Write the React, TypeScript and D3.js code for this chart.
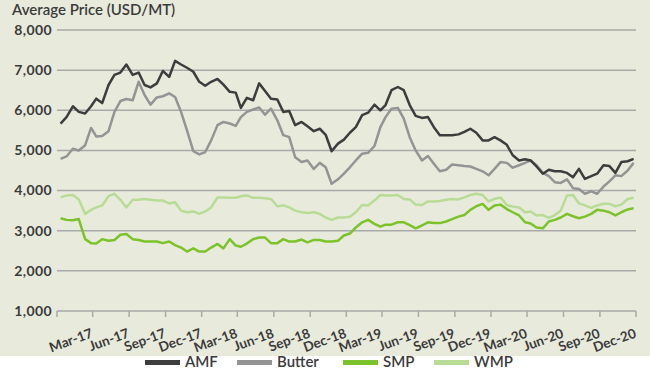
import React from 'react';
import * as d3 from 'd3';

// semi-monthly price readings, Dec-16 .. Nov-20
const amf = [
  5670, 5830, 6100, 5960, 5920, 6100, 6290, 6180, 6630, 6880,
  6940, 7140, 6880, 6940, 6630, 6570, 6670, 6980, 6830, 7230,
  7140, 7060, 6960, 6710, 6610, 6710, 6780, 6640, 6460, 6440,
  6060, 6310, 6250, 6670, 6480, 6290, 6270, 5960, 5980, 5630,
  5710, 5600, 5480, 5540, 5390, 4980, 5170, 5270, 5440, 5580,
  5880, 5940, 6140, 6000, 6130, 6500, 6580, 6500, 6130, 5860,
  5810, 5830, 5580, 5380, 5380, 5380, 5400, 5460, 5540, 5440,
  5250, 5250, 5330, 5250, 5140, 4880, 4750, 4780, 4750, 4600,
  4420, 4520, 4480, 4480, 4440, 4330, 4540, 4290, 4360, 4420,
  4630, 4610, 4440, 4710, 4730, 4790,
];
const butter = [
  4790, 4850, 5040, 5000, 5130, 5560, 5350, 5360, 5480, 5960,
  6230, 6280, 6250, 6710, 6380, 6140, 6320, 6350, 6420, 6330,
  5960, 5500, 4980, 4900, 4960, 5250, 5630, 5710, 5670, 5610,
  5830, 5960, 6020, 6070, 5890, 6040, 5750, 5380, 5330, 4830,
  4710, 4750, 4540, 4690, 4580, 4170, 4280, 4420, 4580, 4750,
  4920, 4940, 5110, 5580, 5830, 6040, 6060, 5790, 5330, 5000,
  4750, 4860, 4670, 4480, 4520, 4650, 4630, 4610, 4600, 4540,
  4480, 4380, 4540, 4710, 4690, 4570, 4630, 4690, 4750, 4630,
  4440, 4360, 4210, 4190, 4280, 4060, 4040, 3920, 3980, 3920,
  4100, 4230, 4380, 4360, 4500, 4690,
];
const smp = [
  3310, 3270, 3260, 3290, 2790, 2690, 2680, 2790, 2750, 2770,
  2900, 2920, 2790, 2770, 2730, 2730, 2730, 2690, 2730, 2640,
  2580, 2480, 2560, 2480, 2480, 2580, 2670, 2560, 2790, 2630,
  2600, 2680, 2790, 2830, 2830, 2690, 2690, 2790, 2730, 2730,
  2780, 2710, 2770, 2770, 2730, 2730, 2750, 2880, 2930, 3080,
  3210, 3270, 3170, 3100, 3150, 3150, 3210, 3210, 3140, 3060,
  3130, 3210, 3190, 3190, 3230, 3290, 3350, 3390, 3520, 3610,
  3670, 3520, 3630, 3650, 3540, 3460, 3380, 3210, 3180, 3080,
  3060, 3230, 3270, 3330, 3420, 3360, 3310, 3350, 3420, 3520,
  3500, 3460, 3380, 3460, 3530, 3560,
];
const wmp = [
  3830, 3880, 3890, 3780, 3420, 3520, 3580, 3630, 3860, 3920,
  3770, 3580, 3770, 3770, 3790, 3770, 3750, 3750, 3680, 3710,
  3500, 3460, 3480, 3420, 3480, 3580, 3830, 3830, 3820, 3820,
  3860, 3880, 3820, 3820, 3810, 3790, 3610, 3630, 3580, 3500,
  3460, 3440, 3460, 3420, 3330, 3270, 3330, 3330, 3350, 3460,
  3640, 3630, 3750, 3890, 3880, 3880, 3890, 3790, 3780, 3650,
  3640, 3730, 3730, 3740, 3770, 3790, 3780, 3830, 3890, 3920,
  3890, 3730, 3790, 3830, 3640, 3600, 3580, 3460, 3480, 3380,
  3390, 3320, 3390, 3500, 3880, 3890, 3680, 3630, 3570, 3630,
  3670, 3670, 3610, 3650, 3790, 3820,
];

const seriesNames = ['AMF', 'Butter', 'SMP', 'WMP'];
const seriesColors = ['#3d3d3d', '#949494', '#7cc22a', '#b8dc95'];
const yTicks = [1000, 2000, 3000, 4000, 5000, 6000, 7000, 8000];

// two readings per month, starting Dec 2016
const dates = amf.map((_, i) =>
  new Date(2016, 11 + Math.floor(i / 2), i % 2 === 0 ? 10 : 25)
);

const W = 650;
const H = 371;

export default function App() {
  const x = d3
    .scaleTime()
    .domain([new Date(2016, 11, 1), new Date(2020, 11, 1)])
    .range([57, 636]);
  const y = d3.scaleLinear().domain([1000, 8000]).range([311, 30]);

  // quarterly ticks Mar-17 .. Dec-20
  const xTicks = d3.timeMonth.range(new Date(2017, 2, 1), new Date(2020, 11, 2), 3);
  const fmt = d3.timeFormat('%b-%y');

  const line = d3
    .line<number>()
    .x((_, i) => x(dates[i]))
    .y((d) => y(d));

  const allSeries = [amf, butter, smp, wmp];
  const drawOrder = [3, 2, 1, 0];
  const legendX = [145, 237, 343, 434];

  return (
    <svg
      width={W}
      height={H}
      style={{ position: 'absolute', left: 0, top: 0, display: 'block' }}
      fontFamily="Lato, sans-serif"
    >
      <rect x={0} y={0} width={W} height={H} fill="#ffffff" />
      <rect x={0} y={0} width={W} height={356} fill="#e8ebdc" />

      <text x={12} y={15} fontSize={15} fontWeight={600} fill="#3b3b3b">
        Average Price (USD/MT)
      </text>

      {/* gridlines + y labels */}
      {yTicks.map((t) => (
        <g key={t}>
          <line
            x1={57}
            x2={636}
            y1={y(t)}
            y2={y(t)}
            stroke="#a9a9a9"
            strokeWidth={1.5}
          />
          <text
            x={52}
            y={y(t)}
            dy="0.35em"
            textAnchor="end"
            fontSize={14}
            fontWeight={700}
            letterSpacing={0.4}
            fill="#3b3b3b"
          >
            {d3.format(',')(t)}
          </text>
        </g>
      ))}

      {/* x ticks */}
      <line x1={57} x2={57} y1={y(1000)} y2={y(1000) + 6} stroke="#a9a9a9" strokeWidth={1.5} />
      {xTicks.map((d) => (
        <g key={d.getTime()}>
          <line
            x1={x(d)}
            x2={x(d)}
            y1={y(1000)}
            y2={y(1000) + 6}
            stroke="#a9a9a9"
            strokeWidth={1.5}
          />
          <text
            transform={`translate(${x(d) + 1},${337}) rotate(-20)`}
            textAnchor="end"
            fontSize={13.5}
            fontWeight={700}
            fill="#3b3b3b"
          >
            {fmt(d)}
          </text>
        </g>
      ))}

      {/* lines */}
      {drawOrder.map((s) => (
        <path
          key={seriesNames[s]}
          d={line(allSeries[s]) || ''}
          fill="none"
          stroke={seriesColors[s]}
          strokeWidth={2.5}
          strokeLinejoin="round"
        />
      ))}

      {/* legend */}
      {seriesNames.map((n, i) => (
        <g key={n}>
          <rect x={legendX[i]} y={360} width={35} height={5} fill={seriesColors[i]} />
          <text
            x={legendX[i] + 40}
            y={367}
            fontSize={15}
            fontWeight={600}
            fill="#3b3b3b"
          >
            {n}
          </text>
        </g>
      ))}
    </svg>
  );
}
